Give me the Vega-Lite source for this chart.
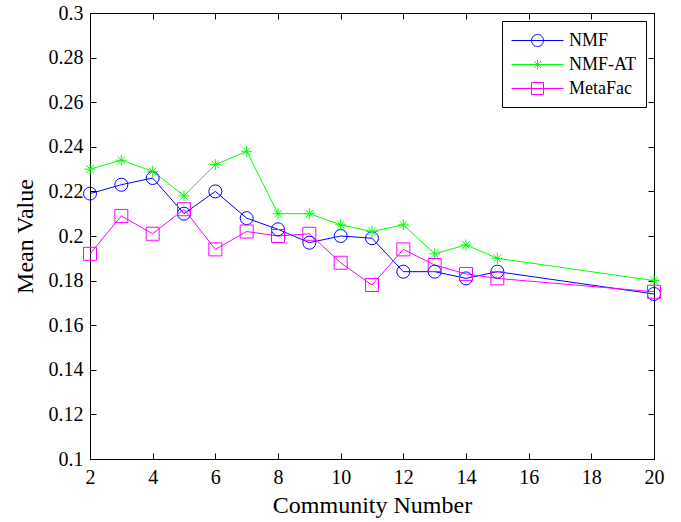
{
  "$schema": "https://vega.github.io/schema/vega-lite/v6.json",
  "autosize": "none",
  "width": 564,
  "height": 446,
  "padding": {"left": 90, "top": 13, "right": 27, "bottom": 63},
  "background": "white",
  "config": {
    "font": "Liberation Serif",
    "view": {"stroke": "black", "strokeWidth": 1},
    "axis": {
      "grid": false,
      "domainColor": "black",
      "tickColor": "black",
      "labelColor": "black",
      "titleColor": "black",
      "labelFont": "Liberation Serif",
      "titleFont": "Liberation Serif",
      "labelFontSize": 20,
      "titleFontSize": 24,
      "titleFontWeight": "normal",
      "labelFlush": false,
      "tickSize": -6
    }
  },
  "data": {
    "values": [
      {"community": 2, "method": "NMF", "mean": 0.219},
      {"community": 3, "method": "NMF", "mean": 0.223},
      {"community": 4, "method": "NMF", "mean": 0.226},
      {"community": 5, "method": "NMF", "mean": 0.210},
      {"community": 6, "method": "NMF", "mean": 0.220},
      {"community": 7, "method": "NMF", "mean": 0.208},
      {"community": 8, "method": "NMF", "mean": 0.203},
      {"community": 9, "method": "NMF", "mean": 0.197},
      {"community": 10, "method": "NMF", "mean": 0.200},
      {"community": 11, "method": "NMF", "mean": 0.199},
      {"community": 12, "method": "NMF", "mean": 0.184},
      {"community": 13, "method": "NMF", "mean": 0.184},
      {"community": 14, "method": "NMF", "mean": 0.181},
      {"community": 15, "method": "NMF", "mean": 0.184},
      {"community": 20, "method": "NMF", "mean": 0.174},
      {"community": 2, "method": "NMF-AT", "mean": 0.230},
      {"community": 3, "method": "NMF-AT", "mean": 0.234},
      {"community": 4, "method": "NMF-AT", "mean": 0.229},
      {"community": 5, "method": "NMF-AT", "mean": 0.218},
      {"community": 6, "method": "NMF-AT", "mean": 0.232},
      {"community": 7, "method": "NMF-AT", "mean": 0.238},
      {"community": 8, "method": "NMF-AT", "mean": 0.210},
      {"community": 9, "method": "NMF-AT", "mean": 0.210},
      {"community": 10, "method": "NMF-AT", "mean": 0.205},
      {"community": 11, "method": "NMF-AT", "mean": 0.202},
      {"community": 12, "method": "NMF-AT", "mean": 0.205},
      {"community": 13, "method": "NMF-AT", "mean": 0.192},
      {"community": 14, "method": "NMF-AT", "mean": 0.196},
      {"community": 15, "method": "NMF-AT", "mean": 0.190},
      {"community": 20, "method": "NMF-AT", "mean": 0.180},
      {"community": 2, "method": "MetaFac", "mean": 0.192},
      {"community": 3, "method": "MetaFac", "mean": 0.209},
      {"community": 4, "method": "MetaFac", "mean": 0.201},
      {"community": 5, "method": "MetaFac", "mean": 0.212},
      {"community": 6, "method": "MetaFac", "mean": 0.194},
      {"community": 7, "method": "MetaFac", "mean": 0.202},
      {"community": 8, "method": "MetaFac", "mean": 0.200},
      {"community": 9, "method": "MetaFac", "mean": 0.201},
      {"community": 10, "method": "MetaFac", "mean": 0.188},
      {"community": 11, "method": "MetaFac", "mean": 0.178},
      {"community": 12, "method": "MetaFac", "mean": 0.194},
      {"community": 13, "method": "MetaFac", "mean": 0.187},
      {"community": 14, "method": "MetaFac", "mean": 0.183},
      {"community": 15, "method": "MetaFac", "mean": 0.181},
      {"community": 20, "method": "MetaFac", "mean": 0.175}
    ]
  },
  "resolve": {"scale": {"x": "independent", "y": "independent"}, "axis": {"x": "independent", "y": "independent"}},
  "layer": [
    {
      "encoding": {
        "x": {"field": "community", "type": "quantitative", "scale": {"domain": [2, 20], "nice": false, "zero": false},
              "axis": {"title": "Community Number", "values": [2,4,6,8,10,12,14,16,18,20], "labelPadding": 14, "titlePadding": 6}},
        "y": {"field": "mean", "type": "quantitative", "scale": {"domain": [0.1, 0.3], "nice": false, "zero": false},
              "axis": {"title": "Mean Value", "values": [0.1,0.12,0.14,0.16,0.18,0.2,0.22,0.24,0.26,0.28,0.3], "format": ".2~f", "labelPadding": 13, "titlePadding": 11}},
        "color": {"field": "method", "type": "nominal", "scale": {"domain": ["NMF", "NMF-AT", "MetaFac"], "range": ["#0000ff", "#00ff00", "#ff00ff"]},
          "legend": {
            "title": null,
            "orient": "top-right",
            "offset": 8,
            "strokeColor": "black",
            "fillColor": "white",
            "padding": 9,
            "labelFont": "Liberation Serif",
            "labelFontSize": 18,
            "labelColor": "black",
            "symbolSize": 400,
            "symbolStrokeWidth": 1,
            "symbolFillColor": "transparent",
            "rowPadding": 4,
            "labelOffset": 37,
            "encode": {
              "symbols": {
                "update": {
                  "shape": {"signal": "datum.value === 'NMF' ? 'M-1,0L4.2,0M2.2,0A0.6,0.6 0 1,1 1,0A0.6,0.6 0 1,1 2.2,0' : datum.value === 'NMF-AT' ? 'M-1,0L4.2,0M1.1,0L2.1,0M1.6,-0.5L1.6,0.5M1.25,-0.35L1.95,0.35M1.25,0.35L1.95,-0.35' : 'M-1,0L4.2,0M1,-0.6L2.2,-0.6L2.2,0.6L1,0.6Z'"},
                  "fill": {"value": "transparent"}
                }
              }
            }
          }
        }
      },
      "layer": [
        {"mark": {"type": "line", "strokeWidth": 1}},
        {
          "transform": [{"filter": "datum.method === 'NMF'"}],
          "mark": {"type": "point", "filled": false, "strokeWidth": 1, "opacity": 1, "shape": "circle", "size": 169}
        },
        {
          "transform": [{"filter": "datum.method === 'NMF-AT'"}],
          "mark": {"type": "point", "filled": false, "strokeWidth": 1, "opacity": 1, "shape": "M-1,0L1,0M0,-1L0,1M-0.7,-0.7L0.7,0.7M-0.7,0.7L0.7,-0.7", "size": 121}
        },
        {
          "transform": [{"filter": "datum.method === 'MetaFac'"}],
          "mark": {"type": "point", "filled": false, "strokeWidth": 1, "opacity": 1, "shape": "square", "size": 169}
        }
      ]
    },
    {
      "mark": {"type": "point", "opacity": 0},
      "encoding": {
        "x": {"field": "community", "type": "quantitative", "scale": {"domain": [2, 20], "nice": false, "zero": false},
              "axis": {"orient": "top", "title": null, "labels": false, "domain": false, "values": [2,4,6,8,10,12,14,16,18,20]}},
        "y": {"field": "mean", "type": "quantitative", "scale": {"domain": [0.1, 0.3], "nice": false, "zero": false},
              "axis": {"orient": "right", "title": null, "labels": false, "domain": false, "values": [0.1,0.12,0.14,0.16,0.18,0.2,0.22,0.24,0.26,0.28,0.3]}}
      }
    }
  ]
}
